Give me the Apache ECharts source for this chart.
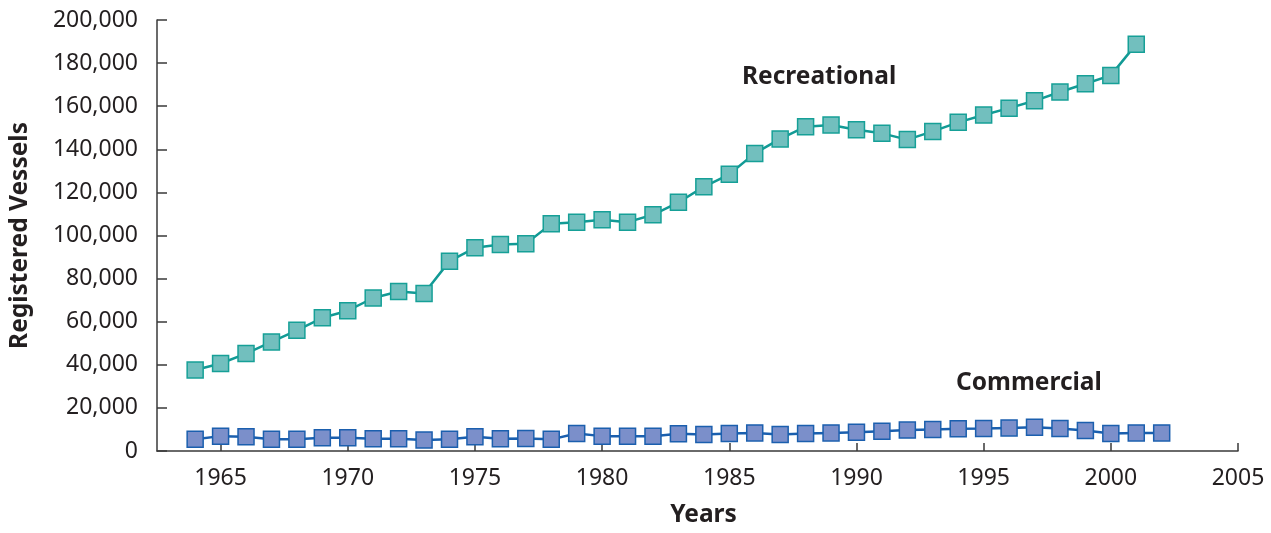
<!DOCTYPE html>
<html>
<head>
<meta charset="utf-8">
<script src="https://cdn.jsdelivr.net/npm/echarts@6/dist/echarts.min.js"></script>
<style>
html,body{margin:0;padding:0;background:#fff;overflow:hidden;}
#chart{width:1271px;height:533px;}
</style>
</head>
<body>
<div id="chart"></div>
<script>
const years = [1964,1965,1966,1967,1968,1969,1970,1971,1972,1973,1974,1975,1976,1977,1978,1979,1980,1981,1982,1983,1984,1985,1986,1987,1988,1989,1990,1991,1992,1993,1994,1995,1996,1997,1998,1999,2000,2001,2002];
const recreational = [37600,40600,45200,50600,56000,61800,65100,71000,74000,73100,88100,94300,95800,96200,105400,106200,107300,106200,109600,115400,122600,128400,138100,144800,150500,151300,149100,147400,144500,148300,152500,155900,159100,162500,166600,170400,174300,188800,null];
const commercial = [5400,6900,6600,5400,5400,6100,6100,5700,5700,5100,5400,6600,5700,5800,5400,8100,6900,6900,6900,8000,7700,8100,8400,7700,8100,8400,8700,9200,9700,10000,10300,10400,10700,11000,10400,9500,8100,8400,8400];
const xTicks = [1965,1970,1975,1980,1985,1990,1995,2000,2005];
const seriesNames = ['Recreational','Commercial'];
const axisNames = {x:'Years', y:'Registered Vessels'};

const FONT = '"Noto Sans", "Open Sans", sans-serif';
const TXT = '#231f20';
const AX = '#3a3a3a';

function pairs(vals){ return years.map((y,i)=>[y, vals[i]]).filter(p=>p[1]!=null); }

const chart = echarts.init(document.getElementById('chart'), null, {renderer:'canvas'});
chart.setOption({
  animation:false,
  backgroundColor:'#fff',
  grid:{left:157, width:1081, top:20, height:435, containLabel:false},
  xAxis:{
    type:'value', min:1962.5, max:2005,
    name:axisNames.x, nameLocation:'middle', nameGap:52,
    nameTextStyle:{fontFamily:FONT, fontSize:24.5, fontWeight:'bold', color:TXT, padding:[0,0,0,12]},
    axisLine:{show:true, lineStyle:{color:AX, width:1.5}},
    axisTick:{show:true, inside:true, length:8, customValues:xTicks, lineStyle:{color:AX, width:1.5}},
    axisLabel:{show:true, customValues:xTicks, margin:16, fontFamily:FONT, fontSize:23, color:TXT, formatter:v=>String(v)},
    splitLine:{show:false}
  },
  yAxis:{
    type:'value', min:0, max:200000, interval:20000,
    name:axisNames.y, nameLocation:'middle', nameGap:124,
    nameTextStyle:{fontFamily:FONT, fontSize:24.5, fontWeight:'bold', color:TXT},
    axisLine:{show:true, lineStyle:{color:AX, width:1.5}},
    axisTick:{show:true, inside:true, length:10, lineStyle:{color:AX, width:1.5}},
    axisLabel:{margin:19, fontFamily:FONT, fontSize:23, color:TXT, formatter:v=>v.toLocaleString('en-US')},
    splitLine:{show:false}
  },
  series:[
    {
      name:seriesNames[0], type:'line', data:pairs(recreational),
      symbol:'rect', symbolSize:16,
      lineStyle:{color:'#129a95', width:2.5},
      itemStyle:{color:'#72bfbe', borderColor:'#16a097', borderWidth:1.5},
      z:3
    },
    {
      name:seriesNames[1], type:'line', data:pairs(commercial),
      symbol:'rect', symbolSize:16,
      lineStyle:{color:'#1a5fae', width:2.5},
      itemStyle:{color:'#7b8fca', borderColor:'#1b5fae', borderWidth:1.5},
      z:3
    }
  ],
  graphic:[
    {type:'text', left:742, top:65, style:{text:seriesNames[0], font:'bold 24.5px '+FONT, fill:TXT}},
    {type:'text', left:956, top:371, style:{text:seriesNames[1], font:'bold 24.5px '+FONT, fill:TXT}}
  ]
});
</script>
</body>
</html>
